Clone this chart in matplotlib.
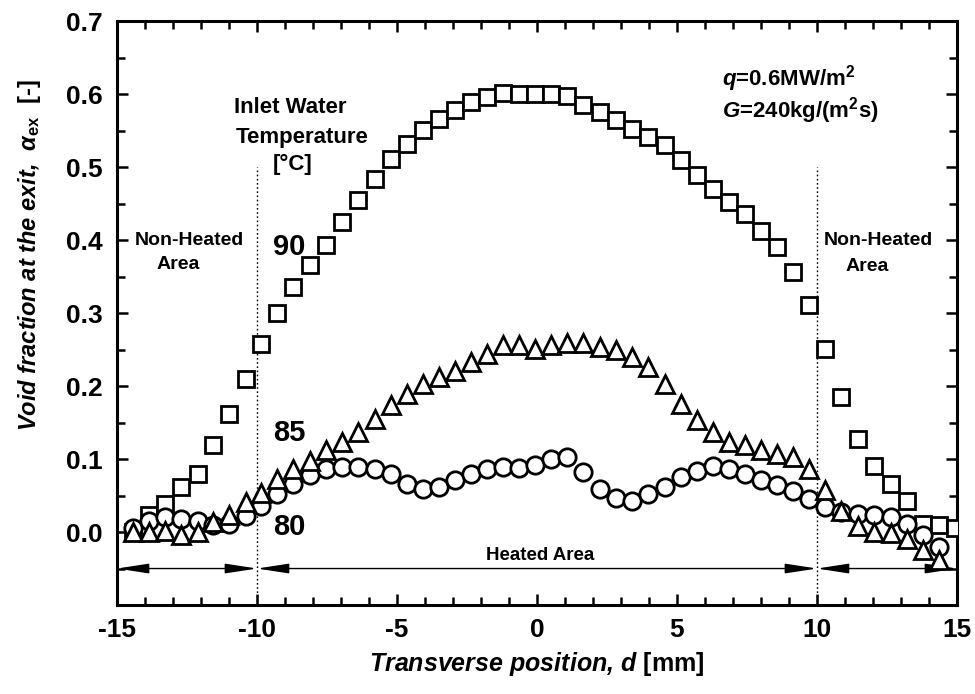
import numpy as np
import matplotlib
matplotlib.use("Agg")
import matplotlib.pyplot as plt
from matplotlib.ticker import MultipleLocator, FormatStrFormatter

# --------------------- Data --------------------- #
x_pos = [-14.44, -13.86, -13.29, -12.71, -12.12, -11.56, -10.99, -10.41, -9.84, -9.28,
         -8.70, -8.12, -7.54, -6.96, -6.38, -5.80, -5.22, -4.65, -4.07, -3.50,
         -2.92, -2.36, -1.78, -1.21, -0.64, -0.08, 0.51, 1.09, 1.66, 2.24,
         2.81, 3.39, 3.97, 4.56, 5.13, 5.71, 6.28, 6.85, 7.43, 8.00,
         8.58, 9.15, 9.72, 10.29, 10.87, 11.45, 12.04, 12.63, 13.21, 13.79,
         14.36, 14.94]

void_90 = [0.000, 0.023, 0.039, 0.062, 0.080, 0.119, 0.162, 0.210, 0.258, 0.300,
           0.336, 0.366, 0.393, 0.425, 0.455, 0.484, 0.511, 0.532, 0.551, 0.566,
           0.578, 0.589, 0.596, 0.601, 0.600, 0.600, 0.600, 0.597, 0.585, 0.575,
           0.564, 0.552, 0.541, 0.530, 0.509, 0.489, 0.470, 0.452, 0.436, 0.413,
           0.390, 0.356, 0.311, 0.251, 0.185, 0.128, 0.091, 0.066, 0.043, 0.011,
           0.009, 0.005]

void_85 = [0.000, 0.000, 0.002, -0.004, 0.000, 0.014, 0.023, 0.041, 0.054, 0.072,
           0.087, 0.097, 0.112, 0.123, 0.137, 0.155, 0.174, 0.189, 0.203, 0.212,
           0.221, 0.233, 0.244, 0.256, 0.256, 0.251, 0.256, 0.259, 0.259, 0.253,
           0.249, 0.240, 0.226, 0.203, 0.176, 0.153, 0.137, 0.123, 0.119, 0.112,
           0.107, 0.103, 0.086, 0.058, 0.029, 0.008, 0.000, -0.002, -0.009, -0.025,
           -0.039, np.nan]

void_80 = [0.005, 0.015, 0.020, 0.018, 0.015, 0.010, 0.011, 0.022, 0.036, 0.052,
           0.066, 0.078, 0.087, 0.089, 0.089, 0.087, 0.080, 0.066, 0.059, 0.061,
           0.071, 0.080, 0.087, 0.089, 0.088, 0.092, 0.100, 0.103, 0.082, 0.059,
           0.046, 0.043, 0.052, 0.062, 0.075, 0.084, 0.091, 0.087, 0.080, 0.071,
           0.065, 0.056, 0.045, 0.034, 0.027, 0.025, 0.024, 0.021, 0.011, -0.004,
           -0.021, np.nan]

heated_edges = [-10, 10]
arrow_spans = [(-15, -10), (-10, 10), (10, 15)]

# --------------------- Style --------------------- #
plt.rcParams['font.family'] = ['Liberation Sans', 'DejaVu Sans']
plt.rcParams['font.weight'] = 'bold'
plt.rcParams['axes.unicode_minus'] = False
plt.rcParams['mathtext.fontset'] = 'custom'
plt.rcParams['mathtext.rm'] = 'Liberation Sans:bold'
plt.rcParams['mathtext.it'] = 'Liberation Sans:bold:italic'
plt.rcParams['mathtext.bf'] = 'Liberation Sans:bold'

fig = plt.figure(figsize=(9.75, 6.94), dpi=100)
ax = fig.add_axes([0.12, 0.1282, 0.8615, 0.8415])

mk = dict(linestyle='none', markerfacecolor='white', markeredgecolor='black',
          markeredgewidth=2.0)
ax.plot(x_pos, void_90, marker='s', markersize=12, zorder=3, **mk)
ax.plot(x_pos, void_80, marker='o', markersize=12.5, zorder=4, **mk)
ax.plot(x_pos, void_85, marker='^', markersize=13, zorder=5, **mk)

# heated / non-heated boundaries
ax.vlines(heated_edges, -0.1, 0.5, colors='black', linewidth=1,
          linestyles=(0, (1.2, 1.8)), zorder=2)
for a, b in arrow_spans:
    ax.annotate('', xy=(a, -0.05), xytext=(b, -0.05),
                arrowprops=dict(arrowstyle='<|-|>,head_length=1.3,head_width=0.2',
                                color='black', lw=1, shrinkA=0, shrinkB=0,
                                mutation_scale=15), zorder=2)

# --------------------- Annotations --------------------- #
ax.text(-10.83, 0.582, 'Inlet Water', fontsize=16, ha='left', va='center')
ax.text(-10.75, 0.541, 'Temperature', fontsize=16, ha='left', va='center')
ax.text(-8.72, 0.503, '[°C]', fontsize=16, ha='center', va='center')
ax.text(-8.86, 0.390, '90', fontsize=21, ha='center', va='center')
ax.text(-8.83, 0.135, '85', fontsize=21, ha='center', va='center')
ax.text(-8.83, 0.007, '80', fontsize=21, ha='center', va='center')

ax.text(-12.43, 0.400, 'Non-Heated', fontsize=14, ha='center', va='center')
ax.text(-12.82, 0.367, 'Area', fontsize=14, ha='center', va='center')
ax.text(12.19, 0.399, 'Non-Heated', fontsize=14, ha='center', va='center')
ax.text(11.79, 0.364, 'Area', fontsize=14, ha='center', va='center')
ax.text(0.1, -0.032, 'Heated Area', fontsize=13.5, ha='center', va='center')

ax.text(6.62, 0.611, r'$\mathit{q}$=0.6MW/m$^{\mathrm{2}}$', fontsize=16,
        ha='left', va='baseline')
ax.text(6.62, 0.568, r'$\mathit{G}$=240kg/(m$^{\mathrm{2}}$s)', fontsize=16,
        ha='left', va='baseline')

# --------------------- Axes --------------------- #
ax.set_xlim(-15, 15)
ax.set_ylim(-0.1, 0.7)
ax.set_xticks([-15, -10, -5, 0, 5, 10, 15])
ax.xaxis.set_minor_locator(MultipleLocator(1))
ax.set_yticks(np.arange(0, 0.71, 0.1))
ax.yaxis.set_minor_locator(MultipleLocator(0.05))
ax.yaxis.set_major_formatter(FormatStrFormatter('%.1f'))

ax.tick_params(which='both', direction='in', top=True, right=True, width=1.8)
ax.tick_params(which='major', length=8, labelsize=19)
ax.tick_params(which='minor', length=6)
ax.tick_params(axis='x', pad=9)
ax.tick_params(axis='y', pad=10)
for sp in ax.spines.values():
    sp.set_linewidth(2.2)

ax.set_xlabel(r'Transverse position, d $\mathrm{[mm]}$', fontsize=18,
              fontstyle='italic', fontweight='bold')
ax.xaxis.set_label_coords(0.5, -0.077)
ax.set_ylabel(r'Void fraction at the exit,  $\alpha_{\mathrm{ex}}$  $\mathrm{[}$-$\mathrm{]}$',
              fontsize=17, fontstyle='italic', fontweight='bold')
ax.yaxis.set_label_coords(-0.088, 0.60)

plt.savefig('out.png', dpi=100)
plt.close()
